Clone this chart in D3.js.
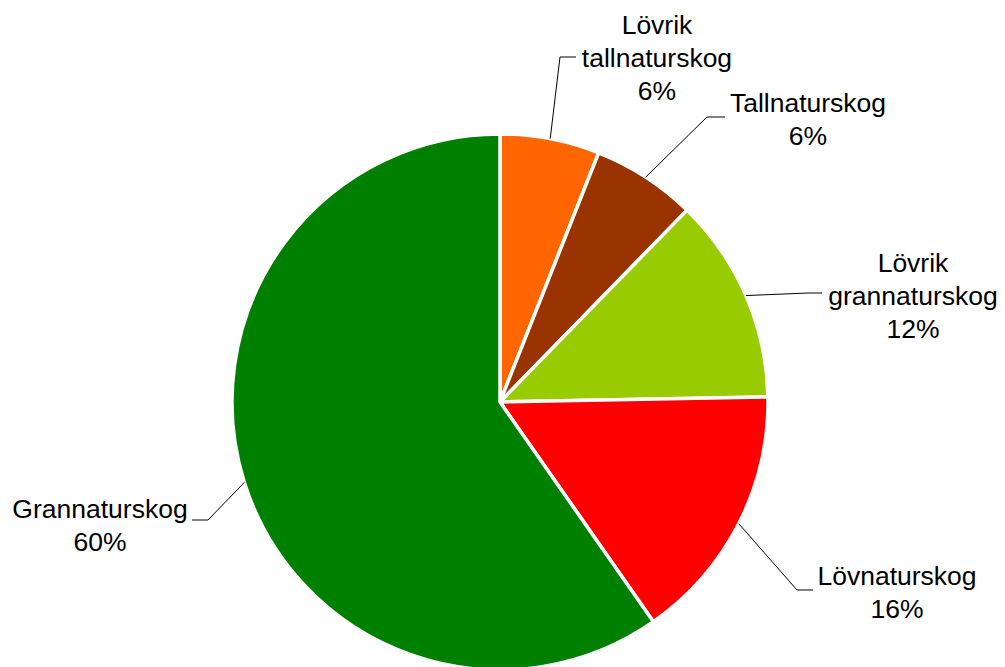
<!DOCTYPE html>
<html>
<head>
<meta charset="utf-8">
<script src="https://cdn.jsdelivr.net/npm/d3@7"></script>
<style>
  body { margin: 0; background: #fff; }
  text { font-family: "Liberation Sans", Arial, sans-serif; font-size: 26.5px; fill: #000; }
</style>
</head>
<body>
<svg width="1005" height="667"></svg>
<script>
var svg = d3.select('svg');
var width = +svg.attr('width');
var height = +svg.attr('height');

// data, clockwise from 12 o'clock
var categories = ['Lövrik tallnaturskog', 'Tallnaturskog', 'Lövrik grannaturskog', 'Lövnaturskog', 'Grannaturskog'];
var values = [6.0, 6.3, 12.4, 15.6, 59.7];
var colors = ['#FF6600', '#993300', '#99CC00', '#FF0000', '#008000'];

// label layout: text centre x, first baseline y, elbow of leader line, end x of leader
var labelLayout = [
	{ x: 657, y: 34, elbow: [560, 57], end: 576 },
	{ x: 808, y: 112, elbow: [707, 117], end: 725 },
	{ x: 913, y: 272, elbow: [808, 293], end: 822 },
	{ x: 897, y: 585, elbow: [797, 590], end: 813 },
	{ x: 100, y: 518, elbow: [208, 520], end: 192 }
];
var lineHeight = 33;

var cx = 500, cy = 402, radius = 268;

var total = d3.sum(values);
var pieData = d3.pie().sort(null).value(function(d) { return d; })(values);

var arcGenerator = d3.arc().innerRadius(0).outerRadius(radius);
var edgeArc = d3.arc().innerRadius(radius).outerRadius(radius);

var pieGroup = svg.append('g').attr('transform', 'translate(' + cx + ',' + cy + ')');

pieGroup.selectAll('path')
	.data(pieData)
	.enter()
	.append('path')
	.attr('d', arcGenerator)
	.attr('fill', function(d, i) { return colors[i]; })
	.attr('stroke', '#fff')
	.attr('stroke-width', 3.5)
	.attr('stroke-linejoin', 'miter');

// leader lines
var leaderGroup = svg.append('g');
pieData.forEach(function(d, i) {
	var p = edgeArc.centroid(d);
	var start = [cx + p[0], cy + p[1]];
	var l = labelLayout[i];
	leaderGroup.append('polyline')
		.attr('points', [start, l.elbow, [l.end, l.elbow[1]]].map(function(q) { return q.join(','); }).join(' '))
		.attr('fill', 'none')
		.attr('stroke', '#000')
		.attr('stroke-width', 1);
});

// labels
var labelGroup = svg.append('g');
pieData.forEach(function(d, i) {
	var l = labelLayout[i];
	var lines = categories[i].split(' ');
	lines.push(Math.round(values[i] / total * 100) + '%');
	var t = labelGroup.append('text')
		.attr('text-anchor', 'middle')
		.attr('x', l.x)
		.attr('y', l.y);
	lines.forEach(function(s, j) {
		t.append('tspan')
			.attr('x', l.x)
			.attr('y', l.y + j * lineHeight)
			.text(s);
	});
});
</script>
</body>
</html>
